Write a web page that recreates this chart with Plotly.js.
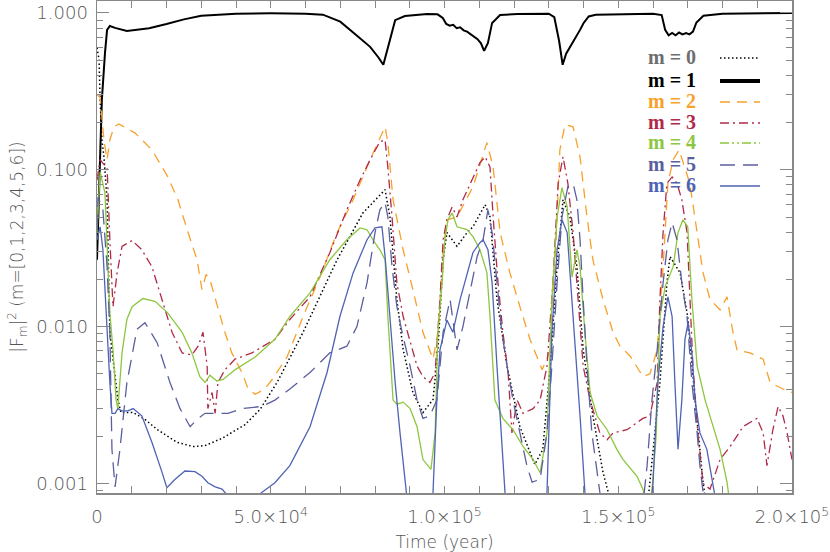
<!DOCTYPE html>
<html>
<head>
<meta charset="utf-8">
<script src="https://cdn.plot.ly/plotly-3.0.1.min.js"></script>
<style>html,body{margin:0;padding:0;background:#fff;}#chart{width:830px;height:552px;}</style>
</head>
<body>
<div id="chart"></div>
<script>
// ---- data (time in years, |F_m|^2) ----
const m0_t = [0,600,900,1400,2000,2900,3700,4900,6000,6900,10400,13800,17300,23000,27600,31000,36000,42600,46900,51800,59300,69100,76500,82900,84300,86300,88100,90900,93800,96700,98100,99600,100700,103600,106500,108200,111700,113100,115100,118000,121700,126000,128300,130400,132400,134100,136100,138100,139900,142700,145600,147600,152000,157700,159100,162000,164000,164900,167800,170000,172100,174400,176400,200000];
const m0_v = [0.6,0.502,0.279,0.155,0.121,0.0644,0.0092,0.0053,0.00343,0.00283,0.00283,0.00256,0.00221,0.00183,0.00172,0.00174,0.00194,0.00237,0.00296,0.0044,0.0092,0.0267,0.053,0.0746,0.050,0.0149,0.00714,0.0038,0.00283,0.00343,0.00714,0.0267,0.0398,0.0325,0.0398,0.0433,0.0599,0.050,0.0149,0.0056,0.0023,0.00132,0.00165,0.0056,0.0241,0.0644,0.050,0.0241,0.00714,0.0027,0.00118,0.0008,0.0005,0.0005,0.00102,0.0044,0.019,0.028,0.022,0.0115,0.00343,0.00102,0.0005,0.0005];

const m1_t = [0,600,1400,2300,2900,3700,5200,8600,15000,20000,25000,30000,40000,50000,60000,65000,70000,75000,78600,81000,82400,84300,85800,88600,95000,98000,99500,100500,101500,102500,103500,104500,105500,106500,107500,108500,109500,110500,111400,112500,113700,116000,121000,130000,131600,133000,134000,135000,136000,137000,138000,139000,140000,141500,143500,160000,162500,163500,164500,165500,166500,167500,168500,169500,170500,171500,172500,174500,180000,200000];
const m1_v = [0.0267,0.071,0.279,0.556,0.779,0.826,0.803,0.768,0.80,0.85,0.91,0.96,0.99,0.995,0.99,0.975,0.88,0.71,0.608,0.52,0.467,0.673,0.90,0.957,0.985,0.98,0.93,0.85,0.83,0.84,0.80,0.81,0.775,0.76,0.73,0.70,0.68,0.64,0.573,0.644,0.864,0.97,0.985,0.99,0.94,0.66,0.467,0.55,0.60,0.65,0.70,0.78,0.86,0.95,0.975,0.99,0.97,0.78,0.72,0.745,0.72,0.75,0.73,0.745,0.73,0.76,0.87,0.96,0.99,1.0];

const m2_t = [0,900,1400,2000,2900,3700,4900,6300,10900,15800,20400,23300,26200,28800,30200,31400,32500,34800,36800,38800,41700,43500,45500,48300,50400,54700,59300,64200,69100,73700,78600,82900,83700,85200,88100,90900,93800,96700,98100,99600,100700,103600,108200,112200,114000,116000,118800,121700,124600,128100,130400,131800,133200,134700,137000,139000,141000,142700,145600,148500,150500,153400,157100,159100,161200,162900,164300,165800,167500,170600,172700,174400,176400,179300,181300,183000,184200,187900,191700,193700,197400,200000];
const m2_v = [0.30,0.29,0.218,0.155,0.116,0.155,0.188,0.196,0.172,0.134,0.090,0.0644,0.0398,0.0267,0.0172,0.0215,0.0199,0.0134,0.0092,0.0068,0.0051,0.0040,0.0037,0.0040,0.0046,0.0064,0.0116,0.0208,0.0398,0.0644,0.116,0.188,0.149,0.0644,0.0309,0.0172,0.0092,0.0062,0.0092,0.0309,0.048,0.050,0.078,0.149,0.104,0.0398,0.0221,0.0134,0.0083,0.0053,0.0071,0.0241,0.134,0.194,0.188,0.121,0.050,0.0267,0.0149,0.0092,0.0075,0.0065,0.0048,0.0050,0.0071,0.0241,0.082,0.116,0.134,0.082,0.0398,0.0221,0.0149,0.0128,0.0155,0.0092,0.0071,0.0068,0.0062,0.0044,0.0040,0.0038];

const m3_t = [0,900,2000,2900,3700,4600,5800,7200,10100,12900,15800,18700,21600,24500,27300,29100,30500,31700,31900,33100,34000,34800,36800,39700,44600,51200,55500,61300,67000,71900,75700,78600,81400,82900,83700,84900,86300,88100,90100,92100,93800,95800,97300,98700,99600,100700,102200,103600,105300,108200,110200,111700,113100,114000,115400,116800,118300,119400,120900,122600,125500,127500,129500,131200,132700,134100,135500,137000,138400,139900,141900,144700,146800,148500,152500,157100,159100,161200,162000,162900,164000,165500,166900,168300,169800,170600,171500,172900,174400,176400,179300,182200,185900,189900,191700,192800,194500,196000,197400,198600,200000];
const m3_v = [0.086,0.116,0.108,0.104,0.0358,0.0134,0.0221,0.0325,0.0354,0.0309,0.0241,0.0149,0.0092,0.0068,0.0066,0.0075,0.0092,0.0056,0.0030,0.0038,0.0028,0.0044,0.0053,0.0062,0.0068,0.0083,0.0111,0.0155,0.0296,0.0556,0.086,0.116,0.151,0.155,0.104,0.050,0.019,0.0116,0.0079,0.0056,0.0048,0.0044,0.0051,0.0149,0.0358,0.048,0.058,0.050,0.0644,0.090,0.111,0.121,0.104,0.050,0.019,0.0092,0.0051,0.0021,0.0034,0.0028,0.0030,0.0034,0.0056,0.019,0.082,0.121,0.082,0.0398,0.0149,0.0056,0.0034,0.0021,0.0019,0.0021,0.0022,0.0026,0.0027,0.0044,0.0149,0.0398,0.082,0.090,0.082,0.0644,0.0398,0.0149,0.0056,0.0021,0.0010,0.00092,0.00142,0.00172,0.0023,0.0026,0.0021,0.0013,0.0022,0.0031,0.0027,0.0021,0.00142];

const m4_t = [0,900,2300,3200,3700,4600,5500,6000,7200,8600,10100,13200,16700,20400,24500,27300,29600,31100,32500,34500,36300,39700,45500,51200,55500,61300,67000,71900,75700,77700,79400,81400,82900,83700,85200,86300,88100,90100,92100,93800,96100,97300,98100,99300,100100,101000,102200,103600,106500,108200,110200,112200,113100,114500,116800,119700,122600,125500,127500,129500,130900,132400,133800,135300,136700,138100,139000,140400,141900,143900,146800,149600,151400,155400,157100,159100,160900,162000,163500,165800,167200,168600,170000,171200,172700,175000,177300,179300,181300,182700,200000];
const m4_v = [0.04,0.097,0.071,0.024,0.0122,0.0071,0.0034,0.0030,0.0068,0.0111,0.0134,0.0151,0.0145,0.0122,0.0092,0.0068,0.0048,0.0044,0.0049,0.0045,0.0046,0.0053,0.0064,0.0083,0.0116,0.0164,0.0267,0.0358,0.0426,0.0415,0.0358,0.0309,0.0267,0.0116,0.0034,0.0032,0.0033,0.0030,0.0023,0.00142,0.00123,0.0021,0.0092,0.019,0.0358,0.048,0.053,0.0433,0.0415,0.0375,0.0309,0.0221,0.0116,0.0034,0.0026,0.0022,0.00172,0.00142,0.00117,0.0021,0.0149,0.050,0.077,0.058,0.0207,0.0309,0.0241,0.0092,0.0038,0.0027,0.0022,0.00165,0.00142,0.00111,0.00092,0.0006,0.002,0.0116,0.018,0.0241,0.0398,0.048,0.0433,0.0149,0.0056,0.0034,0.0023,0.00165,0.00102,0.0006,0.0006];

const m5_t = [0,300,1700,2900,3700,4300,5200,6600,8600,11500,13800,17300,21000,23900,26800,29100,31100,34000,37700,41700,47500,51200,55500,61300,67000,71900,74800,77700,80000,81400,82900,83700,84900,86300,87800,90100,92100,93800,95800,97800,98700,99600,101600,103600,105300,107300,109400,111100,112500,113700,115100,116500,118000,119700,121700,123700,125200,127500,129500,130900,132400,133800,135500,137000,138100,139000,139900,141000,142400,143900,144700,147600,156300,158300,159700,161200,162900,164300,165500,166900,168300,169800,171200,172700,173500,174400,176400,200000];
const m5_v = [0.0415,0.067,0.0556,0.0241,0.0092,0.00165,0.00095,0.00165,0.0044,0.0096,0.0106,0.0079,0.0044,0.0030,0.0023,0.0026,0.0028,0.0028,0.0028,0.0030,0.0031,0.0034,0.0040,0.0051,0.0068,0.0075,0.0100,0.019,0.0398,0.0556,0.062,0.050,0.0241,0.0134,0.0092,0.0056,0.0034,0.0026,0.0027,0.0034,0.0056,0.0092,0.0149,0.0071,0.0100,0.0164,0.028,0.0358,0.0556,0.0398,0.019,0.0092,0.0056,0.0034,0.0021,0.0013,0.00102,0.00106,0.0021,0.0056,0.019,0.050,0.078,0.082,0.0644,0.0358,0.0149,0.0056,0.0021,0.00118,0.00088,0.0005,0.0005,0.0013,0.0034,0.0071,0.019,0.0358,0.046,0.0358,0.019,0.0116,0.0044,0.0021,0.0013,0.00088,0.0005,0.0005];

const m6_t = [0,900,1700,2900,3700,4300,5200,6000,7200,8900,10400,12900,15800,18700,20100,22400,25300,28200,30200,31900,34000,36000,37700,41200,45500,47500,51200,55500,61300,66200,69900,73700,77700,80000,82000,82900,84300,85800,87200,88600,89500,95800,96700,97800,98700,100700,102400,104500,106500,108200,110200,111100,112500,113700,115100,116500,117400,118800,128900,129500,130900,132400,133800,135300,136700,138100,139000,140400,141500,159100,160000,161400,162900,164300,165500,166300,167200,168300,169200,170100,171200,172100,173500,175500,177300,178400,200000];
const m6_v = [0.0358,0.0433,0.0309,0.0092,0.0044,0.0028,0.0028,0.0030,0.0029,0.0029,0.0030,0.0027,0.00183,0.00118,0.00094,0.00106,0.00120,0.00119,0.00111,0.00101,0.00095,0.00092,0.00083,0.0007,0.0008,0.00088,0.00101,0.0013,0.0023,0.0051,0.0116,0.022,0.0358,0.0426,0.0433,0.028,0.0116,0.0044,0.0021,0.00101,0.0007,0.0007,0.00088,0.0034,0.0071,0.011,0.0092,0.0149,0.022,0.0297,0.0343,0.0358,0.0309,0.019,0.0056,0.00165,0.00088,0.0006,0.0006,0.00088,0.0092,0.0309,0.048,0.0398,0.0149,0.0056,0.0027,0.00088,0.0006,0.0006,0.00101,0.0044,0.0100,0.0155,0.0116,0.0044,0.00165,0.0034,0.0083,0.0106,0.0068,0.0034,0.0021,0.00165,0.00101,0.0007,0.0007];

const seriesLabels = ['m = 0','m = 1','m = 2','m = 3','m = 4','m = 5','m = 6'];
const xTickVals = [0, 50000, 100000, 150000, 200000];
const xTickText = ['0','5.0×10<sup>4</sup>','1.0×10<sup>5</sup>','1.5×10<sup>5</sup>','2.0×10<sup>5</sup>'];
const yTickVals = [0.001, 0.01, 0.1, 1];
const yTickText = ['0.001','0.010','0.100','1.000'];

// ---- styling ----
const colors = ['#000000','#000000','#f7a12b','#b02a48','#8dc63f','#5b5f9e','#4f63b5'];
const textColors = ['#6e6e6e','#000000','#f7a12b','#b02a48','#8dc63f','#5b5f9e','#4f63b5'];
const dashes = ['1.5px,2.5px','solid','10px,7px','9px,4px,2px,4px','solid','15px,8px','solid'];
const keyDashes = ['1.5px,2.5px','solid','10px,7px','9px,4px,2px,4px','9px,3px,2px,3px,2px,3px','15px,8px','solid'];
const widths = [1.5, 2, 1.3, 1.3, 1.3, 1.3, 1.3];
const keyWidths = [1.5, 4, 1.5, 1.5, 1.5, 1.5, 1.5];

const T = [m0_t,m1_t,m2_t,m3_t,m4_t,m5_t,m6_t];
const V = [m0_v,m1_v,m2_v,m3_v,m4_v,m5_v,m6_v];

const traces = [];
for (let i = 0; i < 7; i++) {
  traces.push({x: T[i], y: V[i], mode: 'lines', name: seriesLabels[i], showlegend: false,
    line: {color: colors[i], width: widths[i], dash: dashes[i]}});
}

// minor log ticks
const yMinor = [];
for (let d = -4; d <= 0; d++) for (let k = 2; k <= 9; k++) yMinor.push(k * Math.pow(10, d));

// key (legend) placement in pixels -> paper fractions
const L = 97, W = 695, TOP = 1, H = 492;
const px2x = p => (p - L) / W;
const py2y = p => 1 - (p - TOP) / H;
const rowPx = [57, 80, 101, 122, 142, 164, 185];

const annotations = seriesLabels.map((s, i) => ({
  text: s, xref: 'paper', yref: 'paper', x: px2x(698), xanchor: 'right',
  y: py2y(rowPx[i]), yanchor: 'middle', showarrow: false,
  font: {family: 'Liberation Serif', size: 20, weight: 'bold', color: textColors[i]}
}));
const shapes = seriesLabels.map((s, i) => ({
  type: 'line', xref: 'paper', yref: 'paper',
  x0: px2x(720), x1: px2x(760), y0: py2y(rowPx[i] + 1), y1: py2y(rowPx[i] + 1),
  line: {color: colors[i], width: keyWidths[i], dash: keyDashes[i]}
}));

const axisFont = {family: 'DejaVu Sans', size: 18, color: '#555555', weight: 300};
const titleFont = {family: 'DejaVu Sans', size: 17, color: '#555555', weight: 300};

const layout = {
  width: 830, height: 552,
  margin: {l: 97, r: 38, t: 1, b: 59},
  paper_bgcolor: '#ffffff', plot_bgcolor: '#ffffff',
  showlegend: false,
  xaxis: {range: [0, 200000], tickmode: 'array', tickvals: xTickVals, ticktext: xTickText,
    ticks: 'inside', ticklen: 7, tickwidth: 1, tickcolor: '#888888',
    showline: true, linecolor: '#888888', linewidth: 1.5, mirror: 'allticks',
    showgrid: false, zeroline: false, tickfont: axisFont, ticklabelstandoff: 7,
    minor: {dtick: 10000, tick0: 0, ticks: 'inside', ticklen: 7, tickcolor: '#888888', showgrid: false},
    title: {text: 'Time (year)', font: titleFont, standoff: 10}},
  yaxis: {type: 'log', range: [Math.log10(0.000869), Math.log10(1.192)],
    tickmode: 'array', tickvals: yTickVals, ticktext: yTickText,
    ticks: 'inside', ticklen: 12, tickwidth: 1, tickcolor: '#888888',
    showline: true, linecolor: '#888888', linewidth: 1.5, mirror: 'allticks',
    showgrid: false, zeroline: false, tickfont: axisFont, ticklabelstandoff: 4,
    minor: {tickmode: 'array', tickvals: yMinor, ticks: 'inside', ticklen: 6, tickcolor: '#888888', showgrid: false},
    title: {text: '|F<sub>m</sub>|<sup>2</sup> (m=[0,1,2,3,4,5,6])', font: titleFont, standoff: 8}},
  annotations: annotations,
  shapes: shapes
};

Plotly.newPlot('chart', traces, layout, {staticPlot: true, displayModeBar: false});
</script>
</body>
</html>
